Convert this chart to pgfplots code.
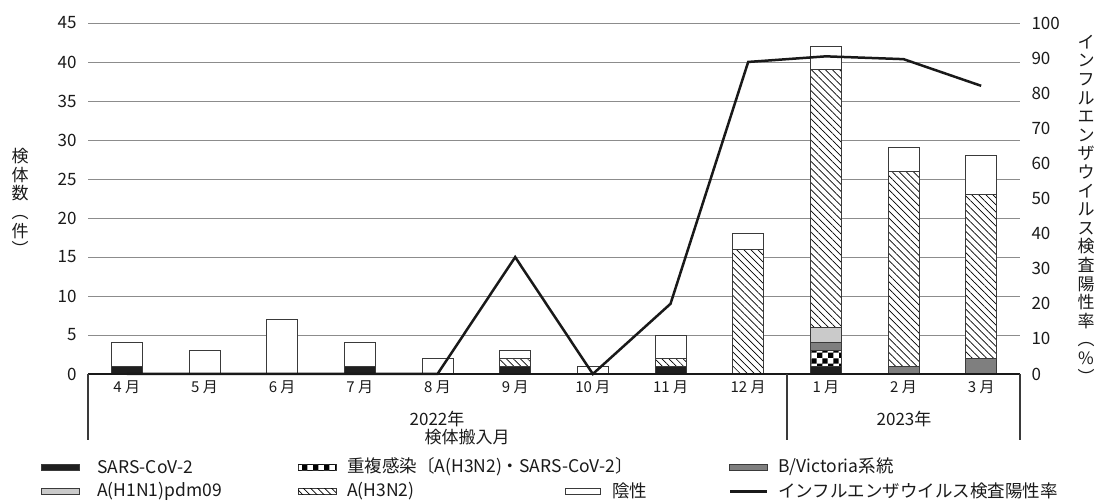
\documentclass[border=0pt]{standalone}
\usepackage{fontspec}
\setmainfont{Noto Sans CJK JP}
\usepackage{pgfplots}
\usepackage{pgfplotstable}
\pgfplotsset{compat=1.18}
\usetikzlibrary{patterns,patterns.meta}

% checker pattern for the co-infection segment
\pgfdeclarepatternformonly{checker}{\pgfqpoint{0pt}{0pt}}{\pgfqpoint{11.2pt}{11.2pt}}{\pgfqpoint{11.2pt}{11.2pt}}{%
  \pgfpathrectangle{\pgfqpoint{0pt}{0pt}}{\pgfqpoint{5.6pt}{5.6pt}}%
  \pgfpathrectangle{\pgfqpoint{5.6pt}{5.6pt}}{\pgfqpoint{5.6pt}{5.6pt}}%
  \pgfusepath{fill}}

\definecolor{bvic}{HTML}{7F7F7F}
\definecolor{hone}{HTML}{CACACA}
\definecolor{edge}{HTML}{3A3A3A}
\definecolor{gridc}{HTML}{8C8C8C}
\definecolor{txt}{HTML}{1A1A1A}

\tikzset{
  s-sars/.style={fill=black!88, draw=edge, line width=0.8pt},
  s-coin/.style={fill=white, draw=edge, line width=0.8pt, postaction={pattern=checker, pattern color=black}},
  s-bvic/.style={fill=bvic, draw=edge, line width=0.8pt},
  s-hone/.style={fill=hone, draw=edge, line width=0.8pt},
  s-h3n2/.style={fill=white, draw=edge, line width=0.8pt, postaction={pattern={Lines[angle=-45, distance=5pt, line width=0.7pt]}, pattern color=black}},
  s-neg/.style={fill=white, draw=edge, line width=0.8pt},
}

% month index, counts per category
\pgfplotstableread{
x sars coin bvic hone h3n2 neg
0  1 0 0 0 0  3
1  0 0 0 0 0  3
2  0 0 0 0 0  7
3  1 0 0 0 0  3
4  0 0 0 0 0  2
5  1 0 0 0 1  1
6  0 0 0 0 0  1
7  1 0 0 0 1  3
8  0 0 0 0 16 2
9  1 2 1 2 33 3
10 0 0 1 0 25 3
11 0 0 2 0 21 5
}\counts

% influenza positive rate (%)
\pgfplotstableread{
x rate
0  0
1  0
2  0
3  0
4  0
5  33.3
6  0
7  20.0
8  88.9
9  90.5
10 89.7
11 82.1
}\rate

\begin{document}
\begin{tikzpicture}[x=1pt,y=1pt]
\useasboundingbox (0,0) rectangle (1099,503);

\begin{axis}[
  at={(88pt,129pt)}, anchor=south west,
  scale only axis, width=932pt, height=351pt,
  ybar stacked, bar width=31pt,
  xmin=-0.5, xmax=11.5, ymin=0, ymax=45,
  xtick={0,...,11},
  xticklabels={4 月,5 月,6 月,7 月,8 月,9 月,10 月,11 月,12 月,1 月,2 月,3 月},
  ytick={0,5,...,45},
  ymajorgrids, grid style={gridc, line width=0.7pt},
  axis line style={draw=none},
  major tick length=0pt,
  /pgf/number format/assume math mode=true,
  tick label style={font=\fontsize{17}{19}\selectfont, text=txt},
  xticklabel style={font=\fontsize{15}{17}\selectfont, yshift=-3pt},
  yticklabel style={xshift=-8pt},
  clip=false,
]
\addplot[s-sars] table[x=x, y=sars]{\counts};
\addplot[s-coin] table[x=x, y=coin]{\counts};
\addplot[s-bvic] table[x=x, y=bvic]{\counts};
\addplot[s-hone] table[x=x, y=hone]{\counts};
\addplot[s-h3n2] table[x=x, y=h3n2]{\counts};
\addplot[s-neg]  table[x=x, y=neg]{\counts};
\end{axis}

\begin{axis}[
  at={(88pt,129pt)}, anchor=south west,
  scale only axis, width=932pt, height=351pt,
  xmin=-0.5, xmax=11.5, ymin=0, ymax=100,
  axis y line*=right, axis x line=none,
  ytick={0,10,...,100},
  axis line style={draw=none},
  major tick length=0pt,
  /pgf/number format/assume math mode=true,
  tick label style={font=\fontsize{17}{19}\selectfont, text=txt},
  yticklabel style={xshift=8pt},
  clip=false,
]
\addplot[black!90, line width=2.5pt, mark=none] table[x=x, y=rate]{\rate};
\end{axis}

% x axis base line and category frame
\draw[black!90, line width=2.6pt] (88,129) -- (1020,129);
\draw[edge, line width=1.1pt] (88,129) -- (88,63);
\draw[edge, line width=1.1pt] (787,129) -- (787,63);
\draw[edge, line width=1.1pt] (1020,129) -- (1020,63);

\begin{scope}[every node/.style={font=\fontsize{17}{19}\selectfont, text=txt}]
\node at (437,84) {2022年};
\node at (904,84) {2023年};
\node at (467,66) {検体搬入月};

% axis titles, set vertically
\node[align=center, font=\fontsize{17}{18.6}\selectfont] at (20,301)
  {検\\体\\数\\︵\\件\\︶};
\node[align=center, font=\fontsize{17}{18.6}\selectfont] at (1086,294)
  {イ\\ン\\フ\\ル\\エ\\ン\\ザ\\ウ\\イ\\ル\\ス\\検\\査\\陽\\性\\率\\︵\\\%\\︶};
\end{scope}

% legend
\begin{scope}[every node/.style={anchor=west, font=\fontsize{17.5}{19}\selectfont, text=txt, inner sep=0pt}]
\path[s-sars] (41,33) rectangle (79,39);
\node at (97,36) {SARS-CoV-2};
\path[s-coin] (298,33) rectangle (336,39);
\node at (347,36) {重複感染〔A(H3N2)・SARS-CoV-2〕};
\path[s-bvic] (729,33) rectangle (767,39);
\node at (778,36) {B/Victoria系統};

\path[s-hone] (41,9) rectangle (79,15);
\node at (97,12) {A(H1N1)pdm09};
\path[s-h3n2] (298,9) rectangle (336,15);
\node at (347,12) {A(H3N2)};
\path[s-neg] (565,9) rectangle (600,15);
\node at (612,12) {陰性};
\draw[black!90, line width=3pt] (730,12) -- (767,12);
\node at (778,12) {インフルエンザウイルス検査陽性率};
\end{scope}
\end{tikzpicture}
\end{document}
